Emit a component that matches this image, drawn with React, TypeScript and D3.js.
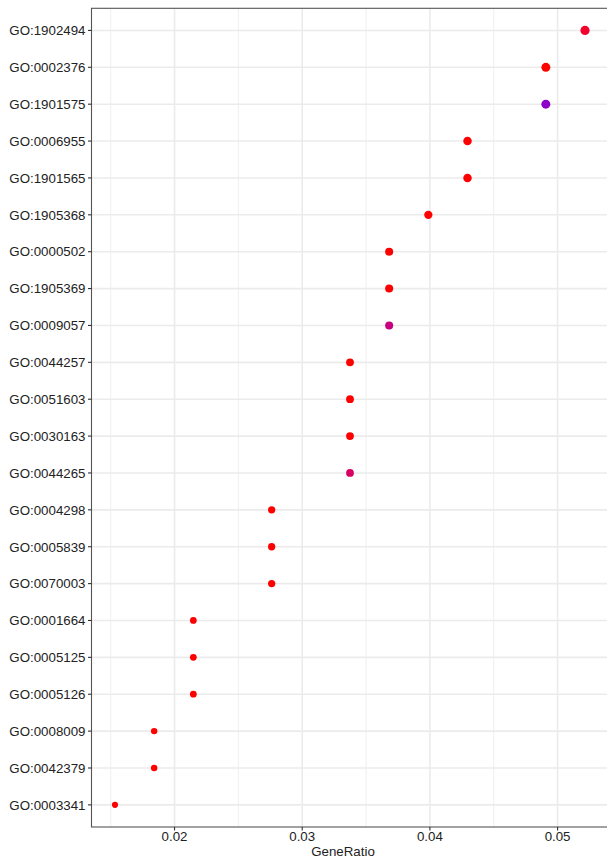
import React from "react";
import * as d3 from "d3";

// GO terms, top to bottom
const goTerms = [
  "GO:1902494", "GO:0002376", "GO:1901575", "GO:0006955", "GO:1901565",
  "GO:1905368", "GO:0000502", "GO:1905369", "GO:0009057", "GO:0044257",
  "GO:0051603", "GO:0030163", "GO:0044265", "GO:0004298", "GO:0005839",
  "GO:0070003", "GO:0001664", "GO:0005125", "GO:0005126", "GO:0008009",
  "GO:0042379", "GO:0003341",
];

// Gene counts per term (GeneRatio = count / 326)
const geneCounts = [17, 16, 16, 14, 14, 13, 12, 12, 12, 11, 11, 11, 11, 9, 9, 9, 7, 7, 7, 6, 6, 5];
const totalGenes = 326;

// Adjusted p-values per term
const pAdjust = [
  0.0022, 0.0004, 0.0128, 0.0004, 0.0004, 0.0004, 0.0004, 0.0004, 0.0078, 0.0004,
  0.0004, 0.0004, 0.0058, 0.0004, 0.0004, 0.0004, 0.0004, 0.0004, 0.0004, 0.0004,
  0.0004, 0.0004,
];
const pAdjustLimits = [0.0004, 0.0165];

const xMajorTicks = [0.02, 0.03, 0.04, 0.05];
const xMinorTicks = [0.015, 0.025, 0.035, 0.045];

const W = 607;
const H = 859;
const panel = { left: 91.5, right: 608.5, top: 8.3, bottom: 827 };
const FONT = "'Liberation Sans', Arial, sans-serif";

export default function App() {
  const ratios = geneCounts.map((c) => c / totalGenes);
  const [minR, maxR] = d3.extent(ratios) as [number, number];
  const pad = (maxR - minR) * 0.05;

  const x = d3.scaleLinear().domain([minR - pad, maxR + pad]).range([panel.left, panel.right]);

  // discrete axis with 0.6 unit expansion each side
  const n = goTerms.length;
  const unit = (panel.bottom - panel.top) / (n - 1 + 1.2);
  const y = d3
    .scalePoint<string>()
    .domain(goTerms)
    .range([panel.top + 0.6 * unit, panel.bottom - 0.6 * unit]);

  const color = d3
    .scaleLinear<string>()
    .domain(pAdjustLimits)
    .range(["red", "blue"])
    .interpolate(d3.interpolateLab)
    .clamp(true);

  const [cMin, cMax] = d3.extent(geneCounts) as [number, number];
  const area = d3.scaleLinear().domain([cMin, cMax]).range([9.5, 21]);
  const radius = (c: number) => Math.sqrt(area(c));

  return (
    <div style={{ position: "absolute", left: 0, top: 0 }}>
      <svg width={W} height={H} style={{ display: "block", background: "#fff" }}>
        <rect x={panel.left} y={panel.top} width={panel.right - panel.left} height={panel.bottom - panel.top} fill="#fff" />
        {/* minor grid */}
        {xMinorTicks.map((t) => (
          <line key={"mn" + t} x1={x(t)} x2={x(t)} y1={panel.top} y2={panel.bottom} stroke="#ebebeb" strokeWidth={0.8} />
        ))}
        {/* major grid */}
        {xMajorTicks.map((t) => (
          <line key={"mj" + t} x1={x(t)} x2={x(t)} y1={panel.top} y2={panel.bottom} stroke="#ebebeb" strokeWidth={1.6} />
        ))}
        {goTerms.map((g) => (
          <line key={"hg" + g} x1={panel.left} x2={panel.right} y1={y(g)} y2={y(g)} stroke="#ebebeb" strokeWidth={1.6} />
        ))}
        {/* points */}
        {goTerms.map((g, i) => (
          <circle key={"pt" + g} cx={x(ratios[i])} cy={y(g)} r={radius(geneCounts[i])} fill={color(pAdjust[i])} />
        ))}
        {/* panel border */}
        <rect
          x={panel.left}
          y={panel.top}
          width={panel.right - panel.left}
          height={panel.bottom - panel.top}
          fill="none"
          stroke="#555"
          strokeWidth={1.1}
        />
        {/* y axis */}
        {goTerms.map((g) => (
          <g key={"yl" + g}>
            <line x1={panel.left - 3.5} x2={panel.left} y1={y(g)} y2={y(g)} stroke="#333" strokeWidth={1.1} />
            <text x={panel.left - 6} y={y(g)} dy="0.36em" textAnchor="end" fontFamily={FONT} fontSize={13.3} fill="#222">
              {g}
            </text>
          </g>
        ))}
        {/* x axis */}
        {xMajorTicks.map((t) => (
          <g key={"xl" + t}>
            <line x1={x(t)} x2={x(t)} y1={panel.bottom} y2={panel.bottom + 3.5} stroke="#333" strokeWidth={1.1} />
            <text x={x(t)} y={panel.bottom + 13.5} textAnchor="middle" fontFamily={FONT} fontSize={13.3} fill="#222">
              {d3.format(".2f")(t)}
            </text>
          </g>
        ))}
        <text x={343} y={H - 3} textAnchor="middle" fontFamily={FONT} fontSize={13.3} fill="#222">
          GeneRatio
        </text>
      </svg>
    </div>
  );
}
